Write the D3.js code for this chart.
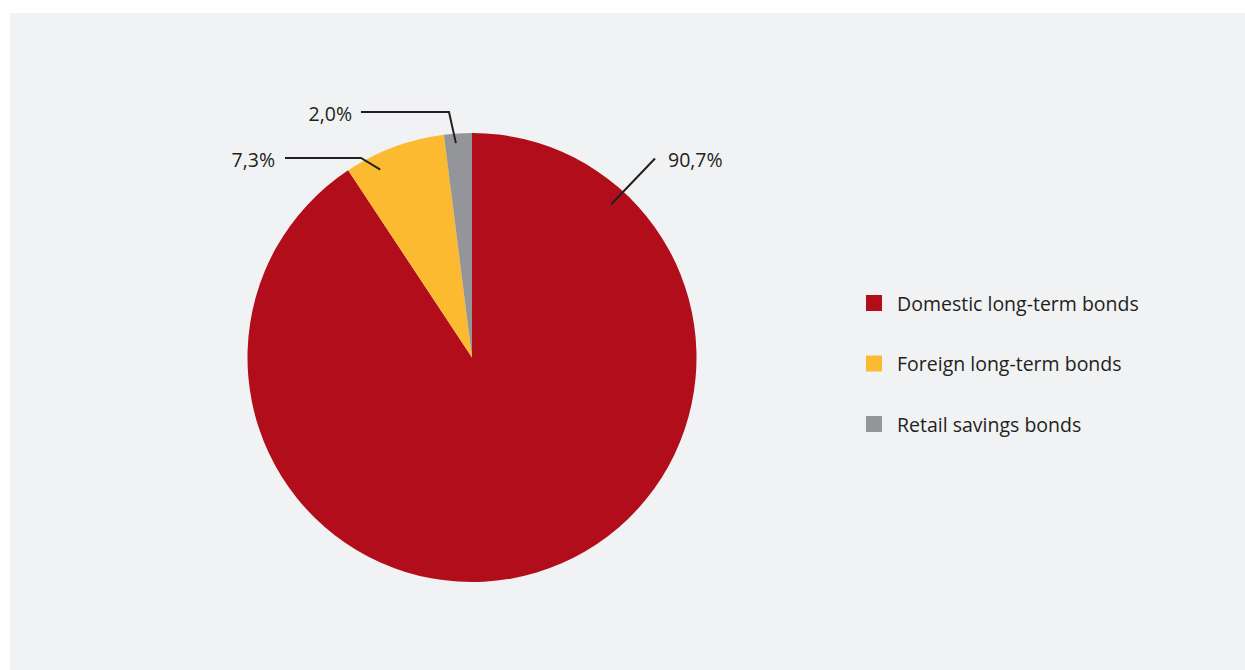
<!DOCTYPE html>
<html>
<head>
<meta charset="utf-8">
<script src="https://cdn.jsdelivr.net/npm/d3@7"></script>
<style>
  html, body { margin: 0; padding: 0; background: #ffffff; }
  svg { display: block; }
  text { font-family: "Open Sans", "Noto Sans", sans-serif; fill: #231f20; }
</style>
</head>
<body>
<svg id="chart" width="1245" height="670"></svg>
<script>
// Structure of bond holdings, shares in percent
const categories = ["Domestic long-term bonds", "Foreign long-term bonds", "Retail savings bonds"];
const shares = [90.7, 7.3, 2.0];
const valueLabels = ["90,7%", "7,3%", "2,0%"];
const colors = ["#b20d1b", "#fbba30", "#939598"];

const W = 1245, H = 670;
const svg = d3.select("#chart");

// panel background
svg.append("rect")
  .attr("x", 10).attr("y", 13)
  .attr("width", W - 10).attr("height", H - 13)
  .attr("fill", "#f1f2f4");

const cx = 472, cy = 357.5, R = 224.5;

const pie = d3.pie().sort(null).value(d => d)(shares);
const arc = d3.arc().innerRadius(0).outerRadius(R);

const g = svg.append("g").attr("transform", `translate(${cx},${cy})`);
g.selectAll("path.slice")
  .data(pie)
  .join("path")
  .attr("class", "slice")
  .attr("d", arc)
  .attr("fill", (d, i) => colors[i]);

// leader lines: start inside the slice, bend out to the label
// angle offset (deg) from slice mid-angle, start radius, elbow and end points relative to centre
const leaders = [
  { angleOffset: -121, rStart: 207, elbow: null, end: [183, -199], anchor: "start", text: [196, -197.5] },
  { angleOffset: -5.7, rStart: 209, elbow: [-111, -199.5], end: [-187, -199.5], anchor: "end", text: [-197, -197.5] },
  { angleOffset: -0.7, rStart: 215, elbow: [-23, -245.5], end: [-111, -245.5], anchor: "end", text: [-120, -243.5] }
];

pie.forEach((d, i) => {
  const L = leaders[i];
  const a = (d.startAngle + d.endAngle) / 2 + L.angleOffset * Math.PI / 180;
  const p0 = [L.rStart * Math.sin(a), -L.rStart * Math.cos(a)];
  const pts = [p0];
  if (L.elbow) pts.push(L.elbow);
  pts.push(L.end);
  g.append("path")
    .attr("d", d3.line()(pts))
    .attr("fill", "none")
    .attr("stroke", "#231f20")
    .attr("stroke-width", 2);
  g.append("text")
    .attr("x", L.text[0]).attr("y", L.text[1])
    .attr("dy", "0.35em")
    .attr("text-anchor", L.anchor)
    .attr("font-size", 19.5)
    .text(valueLabels[i]);
});

// legend
const legend = svg.append("g").attr("transform", "translate(866,303)");
const rows = legend.selectAll("g")
  .data(categories)
  .join("g")
  .attr("transform", (d, i) => `translate(0,${i * 60.5})`);
rows.append("rect")
  .attr("x", 0).attr("y", -8)
  .attr("width", 16).attr("height", 16)
  .attr("fill", (d, i) => colors[i]);
rows.append("text")
  .attr("x", 31).attr("y", 1)
  .attr("dy", "0.35em")
  .attr("font-size", 19.5)
  .text(d => d);
</script>
</body>
</html>
